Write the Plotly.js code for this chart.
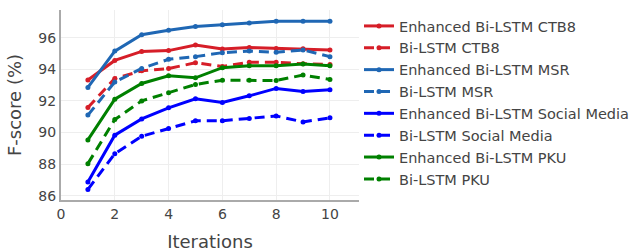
<!DOCTYPE html>
<html>
<head>
<meta charset="utf-8">
<script src="https://cdn.plot.ly/plotly-3.0.1.min.js"></script>
<style>html,body{margin:0;padding:0;background:#fff;}#chart{width:639px;height:252px;}</style>
</head>
<body>
<div id="chart"></div>
<script>
const iterations = [1, 2, 3, 4, 5, 6, 7, 8, 9, 10];
const enhancedCTB8 = [93.32, 94.56, 95.13, 95.18, 95.53, 95.28, 95.37, 95.32, 95.30, 95.22];
const bilstmCTB8 = [91.58, 93.42, 93.90, 94.05, 94.41, 94.18, 94.44, 94.44, 94.35, 94.30];
const enhancedMSR = [92.85, 95.15, 96.19, 96.47, 96.70, 96.82, 96.93, 97.04, 97.04, 97.04];
const bilstmMSR = [91.10, 93.20, 94.05, 94.63, 94.80, 95.05, 95.15, 95.07, 95.22, 94.80];
const enhancedSocial = [86.87, 89.83, 90.86, 91.56, 92.13, 91.90, 92.32, 92.79, 92.60, 92.70];
const bilstmSocial = [86.40, 88.66, 89.76, 90.25, 90.74, 90.74, 90.88, 91.05, 90.67, 90.93];
const enhancedPKU = [89.53, 92.11, 93.10, 93.59, 93.46, 94.10, 94.22, 94.22, 94.33, 94.22];
const bilstmPKU = [88.03, 90.82, 92.00, 92.51, 93.04, 93.31, 93.31, 93.29, 93.63, 93.36];
const seriesNames = ["Enhanced Bi-LSTM CTB8", "Bi-LSTM CTB8", "Enhanced Bi-LSTM MSR", "Bi-LSTM MSR",
  "Enhanced Bi-LSTM Social Media", "Bi-LSTM Social Media", "Enhanced Bi-LSTM PKU", "Bi-LSTM PKU"];
const xTicks = [0, 2, 4, 6, 8, 10];
const yTicks = [86, 88, 90, 92, 94, 96];

const seriesValues = [enhancedCTB8, bilstmCTB8, enhancedMSR, bilstmMSR, enhancedSocial, bilstmSocial, enhancedPKU, bilstmPKU];
const colors = ["rgb(214,30,40)", "rgb(214,30,40)", "rgb(31,103,180)", "rgb(31,103,180)",
  "rgb(0,0,255)", "rgb(0,0,255)", "rgb(0,128,0)", "rgb(0,128,0)"];

const traces = seriesValues.map((ys, i) => ({
  x: iterations,
  y: ys,
  name: seriesNames[i],
  type: "scatter",
  mode: "lines+markers",
  line: { color: colors[i], width: 3, dash: i % 2 === 1 ? "10px,6px" : "solid" },
  marker: { color: colors[i], size: 5 }
}));

const font = "DejaVu Sans, Verdana, sans-serif";
const layout = {
  width: 639,
  height: 252,
  margin: { l: 61, r: 274, t: 10, b: 52 },
  paper_bgcolor: "#fff",
  plot_bgcolor: "#fff",
  font: { family: font, size: 14, color: "#444" },
  showlegend: true,
  legend: {
    x: 359 / 639, xref: "container", xanchor: "left",
    y: 1 - 10 / 252, yref: "container", yanchor: "top",
    font: { family: font, size: 14.5, color: "#444" },
    bgcolor: "rgba(0,0,0,0)",
    tracegroupgap: 0,
    maxheight: 250
  },
  xaxis: {
    range: [0, 11.08],
    tickvals: xTicks,
    ticktext: xTicks.map(String),
    showline: true, linecolor: "#aaa", linewidth: 2,
    showgrid: true, gridcolor: "#eee", gridwidth: 1,
    zeroline: false,
    ticks: "",
    tickfont: { family: font, size: 14, color: "#444" },
    title: { text: "Iterations", font: { family: font, size: 18, color: "#444" }, standoff: 27 }
  },
  yaxis: {
    range: [85.73, 97.75],
    tickvals: yTicks,
    ticktext: yTicks.map(String),
    showline: true, linecolor: "#aaa", linewidth: 2,
    showgrid: true, gridcolor: "#eee", gridwidth: 1,
    zeroline: false,
    ticks: "",
    tickfont: { family: font, size: 14, color: "#444" },
    title: { text: "F-score (%)", font: { family: font, size: 18, color: "#444" }, standoff: 12 }
  }
};

Plotly.newPlot("chart", traces, layout, { displayModeBar: false, staticPlot: true });
</script>
</body>
</html>
